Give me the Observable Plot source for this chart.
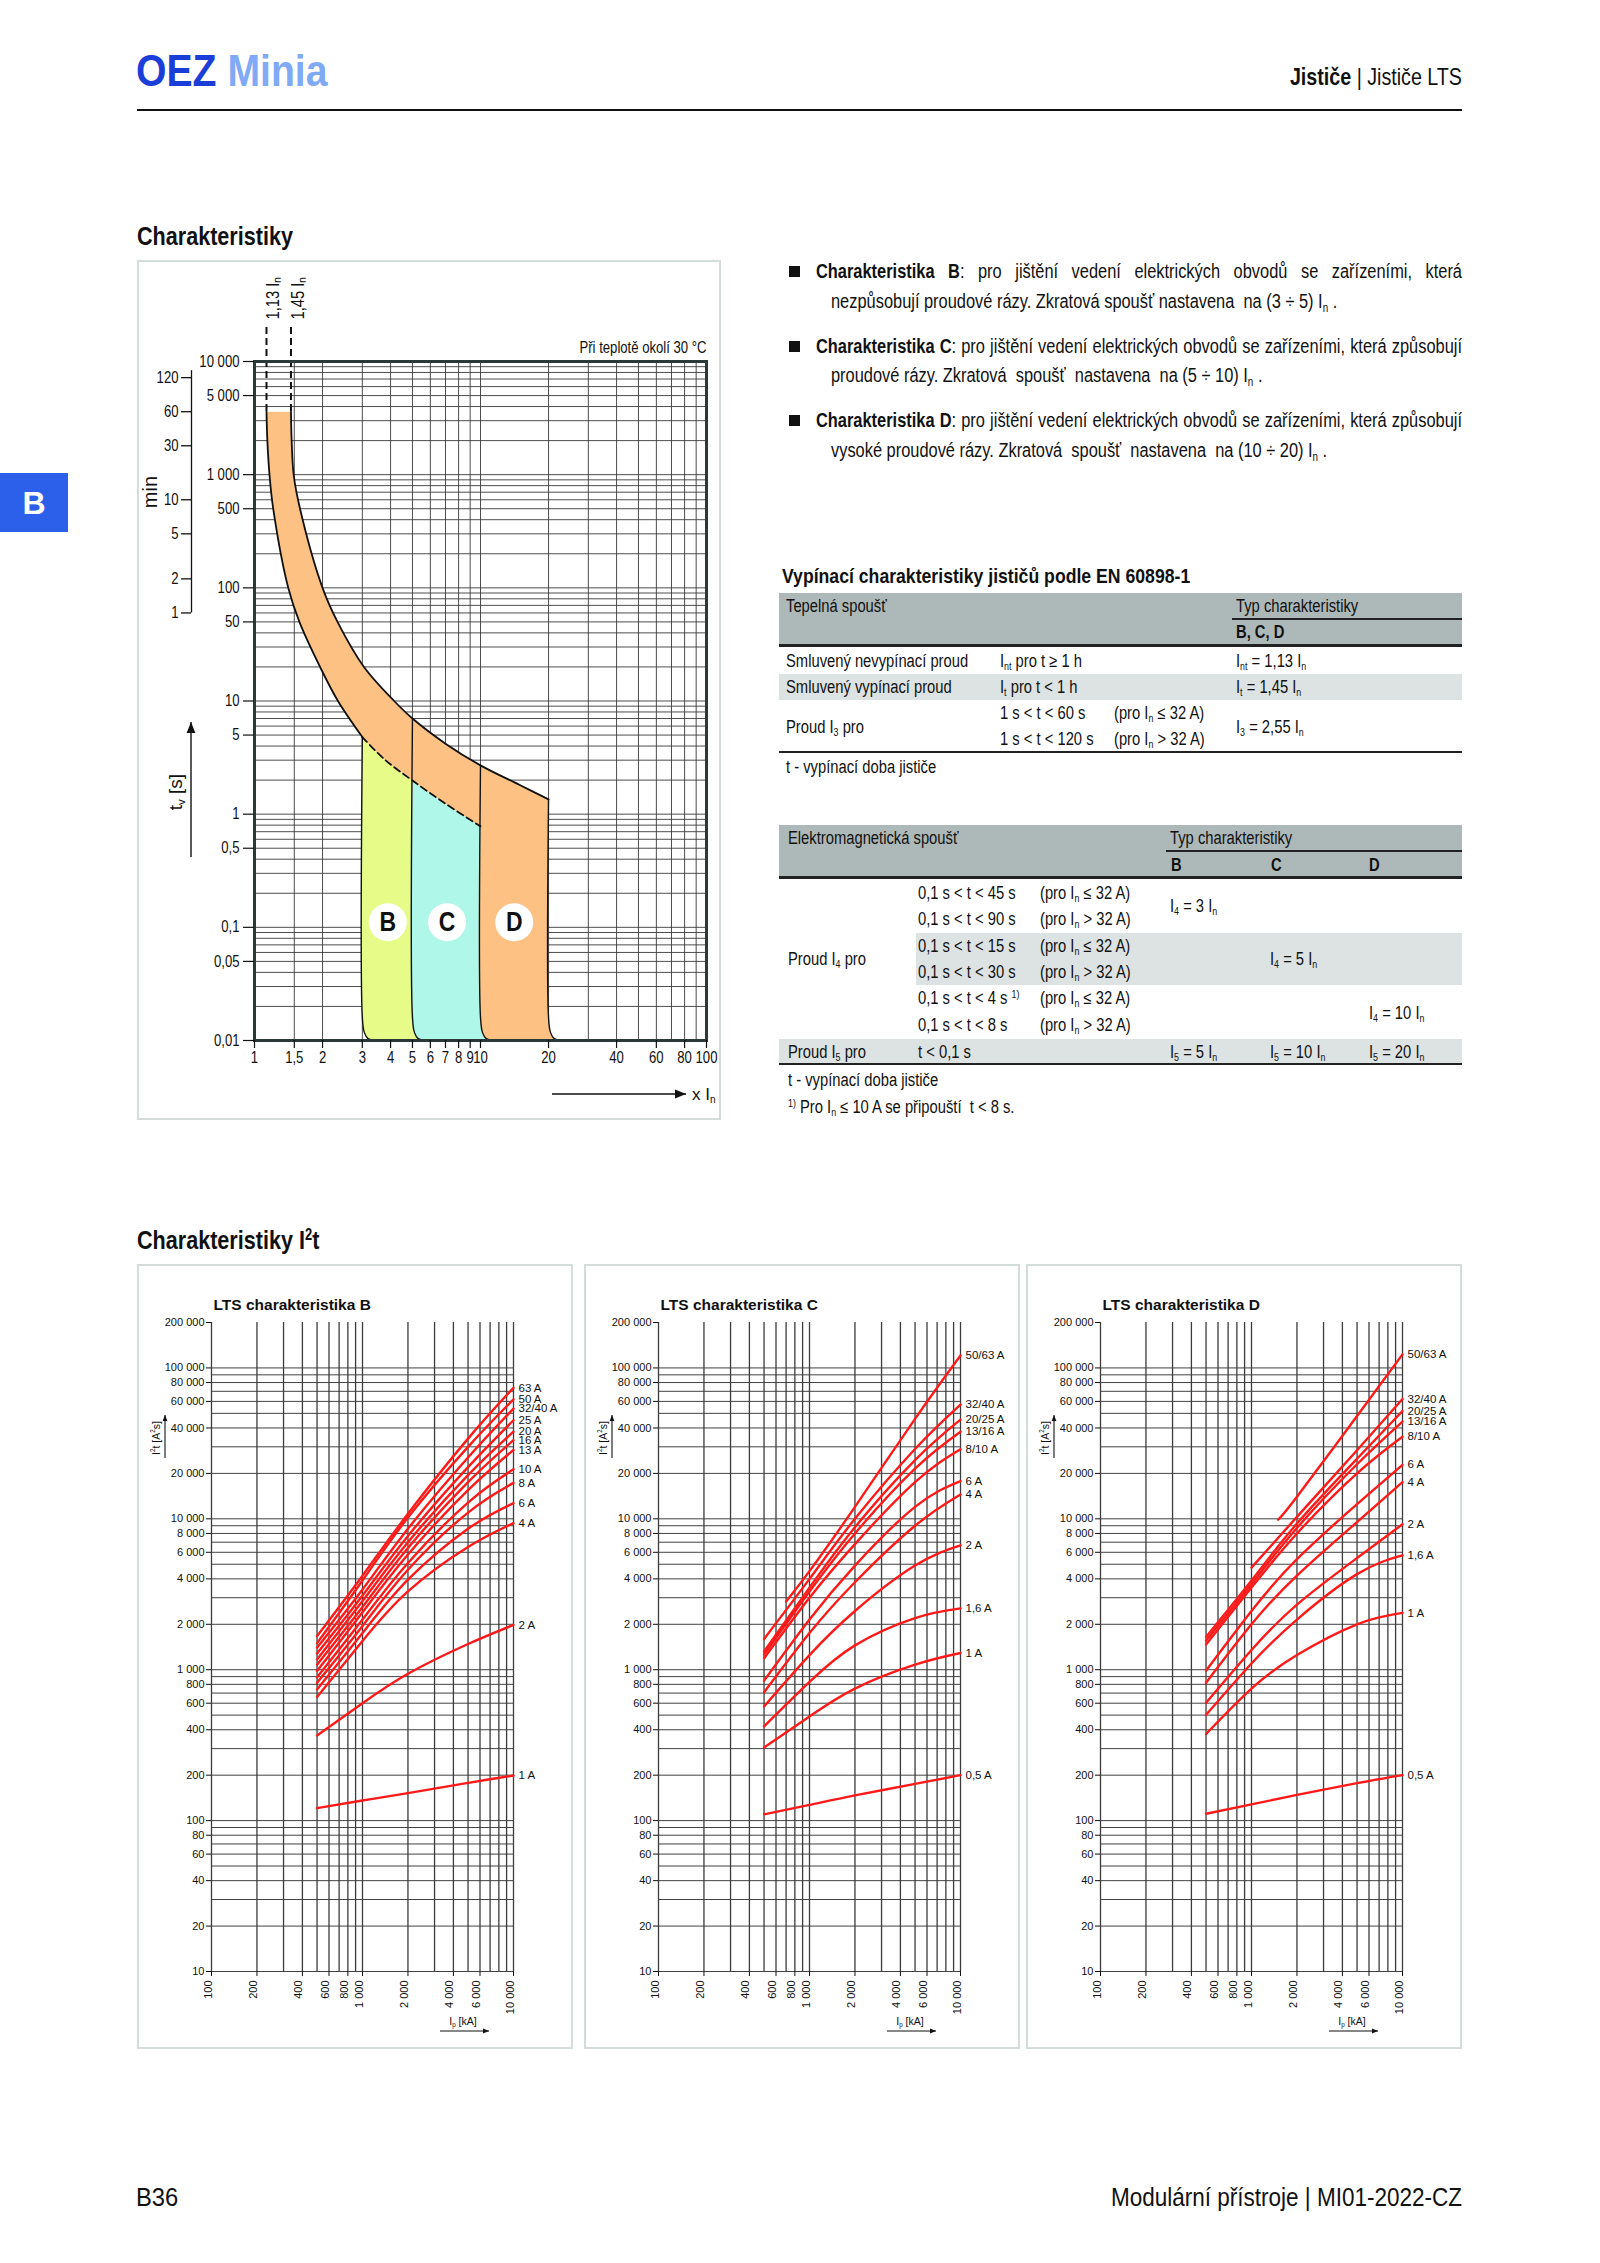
<!DOCTYPE html>
<html><head><meta charset="utf-8">
<script src="https://cdn.jsdelivr.net/npm/d3@7"></script>
<script src="https://cdn.jsdelivr.net/npm/@observablehq/plot@0.6"></script>
<style>
body{margin:0;background:#fff;}
#page{position:relative;width:1600px;height:2263px;overflow:hidden;font-family:"Liberation Sans",Arial,sans-serif;color:#111;background:#fff;}
.a{position:absolute;white-space:nowrap;line-height:1.15;}
.box{position:absolute;border:2.5px solid #d5dcdc;box-sizing:border-box;}
sub{font-size:0.6em;vertical-align:-0.35em;line-height:0;}
sup{font-size:0.6em;vertical-align:0.55em;line-height:0;}
</style></head><body><div id="page"></div>
<script>
// ---------------- DATA: tripping characteristic (x = multiple of In, t in seconds) ----------------
const lowCurveX  = [1.13, 1.14, 1.165, 1.21, 1.41, 1.58, 1.95, 2.34, 3.0];
const lowCurveT  = [3600, 2000, 1000, 500, 100, 50, 20, 10, 4.8];
const highCurveX = [1.45, 1.46, 1.49, 1.59, 2.0, 2.33, 3.05, 4.15, 5.0, 7.0, 10, 15, 20];
const highCurveT = [3600, 2000, 1000, 500, 100, 50, 20, 10, 7.0, 4.2, 2.7, 1.8, 1.35];
const instLowX   = [3.0, 3.74, 5.0, 7.03, 10];
const instLowT   = [4.8, 3.08, 1.98, 1.23, 0.78];
const magEdgeX   = [3, 5, 10, 20];          // B, C, D lower edges and D upper edge
const magEdgeTop = [4.8, 7.0, 2.7, 1.35];
const edgeFootT  = [0.016, 0.0118, 0.0104, 0.01];
const edgeFootK  = [1, 1.02, 1.06, 1.14];
const zoneNames  = ["B", "C", "D"];
const zoneX      = [3.89, 7.11, 14.1];
const zoneT      = [0.111, 0.111, 0.111];
const ratedMarks = [1.13, 1.45];
const mainXTicks = [1, 1.5, 2, 3, 4, 5, 6, 7, 8, 9, 10, 20, 40, 60, 80, 100];
const mainXGrid  = [1, 1.5, 2, 3, 4, 5, 6, 7, 8, 9, 10, 20, 30, 40, 50, 60, 70, 80, 90, 100];
const mainYTicks = [0.01, 0.05, 0.1, 0.5, 1, 5, 10, 50, 100, 500, 1000, 5000, 10000];
const mainDecades = [0.01, 0.1, 1, 10, 100, 1000];
const gridMult   = [1, 2, 3, 4, 5, 6, 7, 8, 9];
const minuteTicks = [1, 2, 5, 10, 30, 60, 120];

// ---------------- DATA: I2t let-through energy (Ip, I2t in A2s) ----------------
const ipGrid = [500, 700, 1000, 1500, 2000, 5000, 10000];
const labelsB = ["63 A","50 A","32/40 A","25 A","20 A","16 A","13 A","10 A","8 A","6 A","4 A","2 A","1 A"];
const valuesB = [
  [1670, null, 4200, null, 10800, 34000, 73800],
  [1500, null, 3900, null, 10200, 30000, 61900],
  [1400, null, 3400, null, 8600, 25500, 53700],
  [1280, null, 3100, null, 7700, 22000, 45000],
  [1170, null, 2850, null, 7000, 19500, 37800],
  [1080, null, 2600, null, 6400, 17500, 33200],
  [980,  null, 2400, null, 5800, 15500, 28600],
  [890,  null, 2150, null, 5100, 12800, 21300],
  [820,  null, 1950, null, 4600, 11000, 17300],
  [740,  null, 1750, null, 3950, 8600, 12700],
  [660,  null, 1550, null, 3300, 6500, 9360],
  [367,  null, 600,  null, 940,  1480, 1980],
  [121,  null, 136,  null, 152,  178,  199]
];
const labelsC = ["50/63 A","32/40 A","20/25 A","13/16 A","8/10 A","6 A","4 A","2 A","1,6 A","1 A","0,5 A"];
const valuesC = [
  [null, 2830, 4500, null, 12000, 46000, 121000],
  [1600, null, 4000, null, 10000, 29000, 57100],
  [1320, null, 3500, null, 8800, 24500, 45400],
  [1260, null, 3300, null, 8000, 21500, 37800],
  [1190, null, 3000, null, 6800, 17500, 28900],
  [845,  null, 2150, null, 4900, 12000, 17800],
  [708,  null, 1750, null, 3800, 9000, 14500],
  [571,  null, 1250, null, 2450, 4900, 6670],
  [421,  null, 830,  null, 1450, 2200, 2550],
  [305,  null, 490,  null, 750,  1080, 1290],
  [110,  null, 127,  null, 147,  175,  200]
];
const labelsD = ["50/63 A","32/40 A","20/25 A","13/16 A","8/10 A","6 A","4 A","2 A","1,6 A","1 A","0,5 A"];
const valuesD = [
  [null, null, null, 9870, 14000, 48000, 123000],
  [null, null, 4750, null, 10300, 28500, 62200],
  [1650, null, 3900, null, 9300, 25000, 51800],
  [1560, null, 3700, null, 8700, 23000, 44100],
  [1470, null, 3500, null, 8000, 20000, 35000],
  [986,  null, 2450, null, 5400, 12500, 22800],
  [820,  null, 2000, null, 4200, 9500, 17500],
  [603,  null, 1350, null, 2700, 5500, 9200],
  [502,  null, 1100, null, 2150, 4300, 5720],
  [375,  null, 750,  null, 1250, 2000, 2380],
  [111,  null, 128,  null, 148,  177,  200]
];
const i2tYTicks = [10,20,40,60,80,100,200,400,600,800,1000,2000,4000,6000,8000,10000,20000,40000,60000,80000,100000,200000];
const i2tDecades = [10, 100, 1000, 10000];
const ipTicks = [100,200,400,600,800,1000,2000,4000,6000,10000];
const ipDecades = [100, 1000];

// ---------------- helpers ----------------
const FONT = '"Liberation Sans",Arial,sans-serif';
const page = document.getElementById("page");
const fmtSpace = d => d3.format(",")(d).replace(/,/g, " ");
const fmtComma = d => String(d).replace(".", ",");
const fmtMain = d => d >= 1000 ? fmtSpace(d) : fmtComma(d);

function put(html, x, y, css = "", anchor = "left", sx = 0.82) {
  const d = document.createElement("div");
  d.className = "a";
  d.style.cssText = css;
  d.style.left = x + "px"; d.style.top = y + "px";
  const tx = anchor === "right" ? "-100%" : anchor === "center" ? "-50%" : "0";
  d.style.transform = `translate(${tx},-50%) scaleX(${sx})`;
  d.style.transformOrigin = (anchor === "right" ? "right" : anchor === "center" ? "center" : "left") + " center";
  d.innerHTML = html;
  page.appendChild(d);
  return d;
}
function rect(x, y, w, h, bg) {
  const d = document.createElement("div");
  d.style.cssText = `position:absolute;left:${x}px;top:${y}px;width:${w}px;height:${h}px;background:${bg};`;
  page.appendChild(d);
  return d;
}
function box(x, y, w, h) {
  const d = document.createElement("div");
  d.className = "box";
  d.style.left = x + "px"; d.style.top = y + "px"; d.style.width = w + "px"; d.style.height = h + "px";
  page.appendChild(d);
}
function place(svg, x, y, w) {
  const d = document.createElement("div");
  d.style.cssText = `position:absolute;left:${x}px;top:${y}px;width:${w}px;`;
  d.appendChild(svg);
  page.appendChild(d);
}
function condense(root, k) {
  root.querySelectorAll("text").forEach(t => {
    const w = t.getComputedTextLength();
    if (w > 0) { t.setAttribute("textLength", (w * k).toFixed(2)); t.setAttribute("lengthAdjust", "spacingAndGlyphs"); }
  });
}

// ---------------- header / page furniture ----------------
put('<span style="color:#1c3ed8">OEZ</span> <span style="color:#80aaf6">Minia</span>', 136, 71, "font-size:44px;font-weight:bold;", "left", 0.89);
put('<b>Jističe</b> <span style="font-weight:300">|</span> Jističe LTS', 1462, 77, "font-size:24px;", "right");
rect(137, 109, 1325, 1.6, "#111");
rect(0, 473, 68, 59, "#2c5fea");
put("B", 34, 503, "font-size:32px;font-weight:bold;color:#fff;", "center", 1);
put("Charakteristiky", 137, 237, "font-size:26px;font-weight:bold;", "left", 0.83);
put("Charakteristiky I<sup>2</sup>t", 137, 1241, "font-size:26px;font-weight:bold;", "left", 0.83);
put("B36", 136, 2197, "font-size:25px;", "left", 0.95);
put('Modulární přístroje <span style="font-weight:300">|</span> MI01-2022-CZ', 1462, 2197, "font-size:25px;", "right", 0.9);

// ---------------- bullets ----------------
const bullets = [
  ['<b>Charakteristika B</b>: pro jištění vedení elektrických obvodů se zařízeními, která', 'nezpůsobují proudové rázy. Zkratová spoušť nastavena&nbsp; na (3 ÷ 5) I<sub>n</sub> .'],
  ['<b>Charakteristika C</b>: pro jištění vedení elektrických obvodů se zařízeními, která způsobují', 'proudové rázy. Zkratová&nbsp; spoušť&nbsp; nastavena&nbsp; na (5 ÷ 10) I<sub>n</sub> .'],
  ['<b>Charakteristika D</b>: pro jištění vedení elektrických obvodů se zařízeními, která způsobují', 'vysoké proudové rázy. Zkratová&nbsp; spoušť&nbsp; nastavena&nbsp; na (10 ÷ 20) I<sub>n</sub> .']
];
const bulletY = [[271, 301], [346, 375], [420, 450]];
const BUL = "font-size:20px;";
bullets.forEach((b, i) => {
  rect(789, bulletY[i][0] - 5.5, 11, 11, "#111");
  const d = put(b[0], 816, bulletY[i][0], BUL);
  const natural = d.offsetWidth;
  const s = Math.min(0.82, 646 / natural);
  d.style.transform = `translate(0,-50%) scaleX(${s})`;
  d.style.whiteSpace = "normal";
  d.style.width = Math.max(646 / s, natural + 1) + "px";
  d.style.textAlign = "justify";
  d.style.textAlignLast = "justify";
  put(b[1], 831, bulletY[i][1], BUL);
});

// ---------------- table 1 ----------------
const T = "font-size:18px;";
put("<b>Vypínací charakteristiky jističů podle EN 60898-1</b>", 782, 576, "font-size:21px;", "left", 0.84);
rect(779, 593, 683, 52, "#adb8b8");
put("Tepelná spoušť", 786, 606, T);
put("Typ charakteristiky", 1236, 606, T);
rect(1232, 618, 230, 1.6, "#222");
put("<b>B, C, D</b>", 1236, 632, T);
rect(779, 644, 683, 2.6, "#222");
put("Smluvený nevypínací proud", 786, 661, T);
put("I<sub>nt</sub> pro t ≥ 1 h", 1000, 661, T);
put("I<sub>nt</sub> = 1,13 I<sub>n</sub>", 1236, 661, T);
rect(779, 674, 683, 26, "#dde2e2");
put("Smluvený vypínací proud", 786, 687, T);
put("I<sub>t</sub> pro t &lt; 1 h", 1000, 687, T);
put("I<sub>t</sub> = 1,45 I<sub>n</sub>", 1236, 687, T);
put("Proud I<sub>3</sub> pro", 786, 727, T);
put("1 s &lt; t &lt; 60 s", 1000, 713, T);
put("(pro I<sub>n</sub> ≤ 32 A)", 1114, 713, T);
put("1 s &lt; t &lt; 120 s", 1000, 739, T);
put("(pro I<sub>n</sub> &gt; 32 A)", 1114, 739, T);
put("I<sub>3</sub> = 2,55 I<sub>n</sub>", 1236, 727, T);
rect(779, 751, 683, 1.8, "#222");
put("t - vypínací doba jističe", 786, 767, T);

// ---------------- table 2 ----------------
rect(779, 825, 683, 52, "#adb8b8");
put("Elektromagnetická spoušť", 788, 838, T);
put("Typ charakteristiky", 1170, 838, T);
rect(1166, 850, 296, 1.6, "#222");
put("<b>B</b>", 1171, 865, T); put("<b>C</b>", 1271, 865, T); put("<b>D</b>", 1369, 865, T);
rect(779, 876, 683, 2.6, "#222");
put("0,1 s &lt; t &lt; 45 s", 918, 893, T); put("(pro I<sub>n</sub> ≤ 32 A)", 1040, 893, T);
put("0,1 s &lt; t &lt; 90 s", 918, 919, T); put("(pro I<sub>n</sub> &gt; 32 A)", 1040, 919, T);
put("I<sub>4</sub> = 3 I<sub>n</sub>", 1170, 906, T);
rect(916, 933, 546, 52, "#dde2e2");
put("0,1 s &lt; t &lt; 15 s", 918, 946, T); put("(pro I<sub>n</sub> ≤ 32 A)", 1040, 946, T);
put("0,1 s &lt; t &lt; 30 s", 918, 972, T); put("(pro I<sub>n</sub> &gt; 32 A)", 1040, 972, T);
put("I<sub>4</sub> = 5 I<sub>n</sub>", 1270, 959, T);
put("0,1 s &lt; t &lt; 4 s <sup>1)</sup>", 918, 998, T); put("(pro I<sub>n</sub> ≤ 32 A)", 1040, 998, T);
put("0,1 s &lt; t &lt; 8 s", 918, 1025, T); put("(pro I<sub>n</sub> &gt; 32 A)", 1040, 1025, T);
put("I<sub>4</sub> = 10 I<sub>n</sub>", 1369, 1013, T);
put("Proud I<sub>4</sub> pro", 788, 959, T);
rect(779, 1039, 683, 25, "#dde2e2");
put("Proud I<sub>5</sub> pro", 788, 1052, T);
put("t &lt; 0,1 s", 918, 1052, T);
put("I<sub>5</sub> = 5 I<sub>n</sub>", 1170, 1052, T);
put("I<sub>5</sub> = 10 I<sub>n</sub>", 1270, 1052, T);
put("I<sub>5</sub> = 20 I<sub>n</sub>", 1369, 1052, T);
rect(779, 1063, 683, 1.8, "#222");
put("t - vypínací doba jističe", 788, 1080, T);
put("<sup>1)</sup> Pro I<sub>n</sub> ≤ 10 A se připouští&nbsp; t &lt; 8 s.", 788, 1107, T);

// ---------------- main tripping chart ----------------
const pts = (xs, ts) => xs.map((x, i) => [x, ts[i]]);
const edge = (x, tTop) => [[x, tTop], ...edgeFootT.map((t, j) => [x * edgeFootK[j], t])];
const poly = (...segs) => segs.flatMap(s => [s[0], ...s, s[s.length - 1]]);
const low = pts(lowCurveX, lowCurveT);
const high = pts(highCurveX, highCurveT);
const inst = pts(instLowX, instLowT);
const edges = magEdgeX.map((x, i) => edge(x, magEdgeTop[i]));
const iC = instLowX.indexOf(5.0);
const instAtC = instLowT[iC];
const instAtD = instLowT[instLowT.length - 1];
const orangePoly = poly(low, edges[0], edges[3].slice().reverse(), high.slice().reverse());
const yellowPoly = poly(inst.slice(0, iC + 1), edge(magEdgeX[1], instAtC), edges[0].slice().reverse());
const cyanPoly = poly(inst.slice(iC), edge(magEdgeX[2], instAtD), edge(magEdgeX[1], instAtC).reverse());
const yGridMain = mainDecades.flatMap(d => gridMult.map(m => +(m * d).toPrecision(3))).concat([10000]);
const P = {x: d => d[0], y: d => d[1]};
const xMin = 1, tMin = 0.01;

const mainPlot = Plot.plot({
  width: 584, height: 860,
  marginLeft: 117, marginRight: 15, marginTop: 101, marginBottom: 80,
  x: {type: "log", domain: [1, 100], axis: null},
  y: {type: "log", domain: [0.01, 10000], axis: null},
  style: {fontFamily: FONT, fontSize: "16px", color: "#111", background: "transparent", overflow: "visible"},
  marks: [
    Plot.ruleY(yGridMain, {stroke: "#3a3a3a", strokeWidth: 0.9}),
    Plot.ruleX(mainXGrid, {stroke: "#3a3a3a", strokeWidth: 0.9}),
    Plot.line(orangePoly, {...P, fill: "#fdc283", stroke: "none", curve: "catmull-rom"}),
    Plot.line(yellowPoly, {...P, fill: "#e6fb88", stroke: "none", curve: "catmull-rom"}),
    Plot.line(cyanPoly, {...P, fill: "#aff7e8", stroke: "none", curve: "catmull-rom"}),
    Plot.line(low, {...P, stroke: "#111", strokeWidth: 1.8, curve: "catmull-rom"}),
    Plot.line(high, {...P, stroke: "#111", strokeWidth: 1.8, curve: "catmull-rom"}),
    Plot.line(inst, {...P, stroke: "#111", strokeWidth: 1.8, strokeDasharray: "7,4", curve: "catmull-rom"}),
    ...edges.map(e => Plot.line(e, {...P, stroke: "#111", strokeWidth: 1.4, curve: "catmull-rom"})),
    Plot.ruleX(ratedMarks, {x: d => d, y1: 10000, y2: 3600, insetTop: -34, stroke: "#111", strokeWidth: 2, strokeDasharray: "7,4"}),
    Plot.text(ratedMarks, {x: d => d, text: d => fmtComma(d) + " Iₙ", frameAnchor: "top", dy: -42, rotate: -90, textAnchor: "start", fontSize: 18}),
    Plot.dot(zoneNames, {x: (d, i) => zoneX[i], y: (d, i) => zoneT[i], r: 19, fill: "#fff", stroke: "none"}),
    Plot.text(zoneNames, {x: (d, i) => zoneX[i], y: (d, i) => zoneT[i], text: d => d, fontSize: 28, fontWeight: "bold", fill: "#111"}),
    Plot.frame({stroke: "#2b3939", strokeWidth: 3}),
    // x axis
    Plot.ruleX(mainXTicks, {x: d => d, y1: tMin, y2: tMin, insetBottom: -8, stroke: "#111", strokeWidth: 1.2}),
    Plot.text(mainXTicks, {x: d => d, frameAnchor: "bottom", dy: 22, text: fmtComma, fontSize: 16}),
    // y axis (seconds)
    Plot.ruleY(mainYTicks, {y: d => d, x1: xMin, x2: xMin, insetLeft: -11, stroke: "#111", strokeWidth: 1.2}),
    Plot.text(mainYTicks, {y: d => d, frameAnchor: "left", dx: -15, textAnchor: "end", text: fmtMain, fontSize: 16}),
    // secondary minutes axis
    Plot.ruleX([xMin], {y1: 8300, y2: minuteTicks[0] * 60, dx: -63, stroke: "#111", strokeWidth: 1.3}),
    Plot.ruleY(minuteTicks, {y: m => m * 60, x1: xMin, x2: xMin, dx: -63, insetLeft: -10, stroke: "#111", strokeWidth: 1.3}),
    Plot.text(minuteTicks, {y: m => m * 60, frameAnchor: "left", dx: -76, textAnchor: "end", text: d => String(d), fontSize: 16}),
    Plot.text(["Při teplotě okolí 30 °C"], {text: d => d, frameAnchor: "top-right", dy: -20, textAnchor: "end", fontSize: 16})
  ]
});
box(137, 260, 584, 860);
place(mainPlot, 137, 260, 584);
condense(mainPlot, 0.82);

// ---------------- I2t charts ----------------
const i2tYGrid = i2tDecades.flatMap(d => gridMult.map(m => m * d)).concat([100000]);
const ipGridLines = ipDecades.flatMap(d => gridMult.map(m => m * d)).concat([10000]);
function i2tChart(labels, values, title) {
  const data = [];
  labels.forEach((lab, i) => values[i].forEach((v, j) => { if (v != null) data.push({lab, x: ipGrid[j], v}); }));
  const ends = labels.map((lab, i) => ({lab, x: ipGrid[ipGrid.length - 1], v: values[i][values[i].length - 1]}));
  return Plot.plot({
    width: 436, height: 785,
    marginLeft: 74, marginRight: 60, marginTop: 58, marginBottom: 78,
    x: {type: "log", domain: [100, 10000], axis: null},
    y: {type: "log", domain: [10, 200000], axis: null},
    style: {fontFamily: FONT, fontSize: "11px", color: "#111", background: "transparent", overflow: "visible"},
    marks: [
      Plot.ruleY(i2tYGrid, {stroke: "#111", strokeWidth: 0.8}),
      Plot.ruleX(ipGridLines, {stroke: "#3c3c3c", strokeWidth: 1.3}),
      Plot.line(data, {x: "x", y: "v", z: "lab", stroke: "#ff1a1a", strokeWidth: 2.4, curve: "natural"}),
      Plot.text(ends, {x: "x", y: "v", text: "lab", dx: 5, textAnchor: "start", fontSize: 11.5}),
      Plot.ruleY(i2tYTicks, {y: d => d, x1: 100, x2: 100, insetLeft: -5, stroke: "#111", strokeWidth: 1}),
      Plot.text(i2tYTicks, {y: d => d, frameAnchor: "left", dx: -7, textAnchor: "end", text: fmtSpace, fontSize: 11}),
      Plot.ruleX(ipTicks, {x: d => d, y1: 10, y2: 10, insetBottom: -5, stroke: "#111", strokeWidth: 1}),
      Plot.text(ipTicks, {x: d => d, frameAnchor: "bottom", dy: 9, rotate: -90, textAnchor: "end", text: fmtSpace, fontSize: 11}),
      Plot.text([title], {text: d => d, frameAnchor: "top-left", dx: 2, dy: -24, textAnchor: "start", fontSize: 15.5, fontWeight: "bold"})
    ]
  });
}
const boxLefts = [137, 584, 1026];
const charts = [
  i2tChart(labelsB, valuesB, "LTS charakteristika B"),
  i2tChart(labelsC, valuesC, "LTS charakteristika C"),
  i2tChart(labelsD, valuesD, "LTS charakteristika D")
];
charts.forEach((c, i) => { box(boxLefts[i], 1264, 436, 785); place(c, boxLefts[i], 1264, 436); });

// ---------------- overlay: axis captions and arrows ----------------
const NS = "http://www.w3.org/2000/svg";
const ov = document.createElementNS(NS, "svg");
ov.setAttribute("width", 1600); ov.setAttribute("height", 2263);
ov.style.cssText = "position:absolute;left:0;top:0;pointer-events:none;overflow:visible";
page.appendChild(ov);
function el(tag, attrs, parent = ov) {
  const e = document.createElementNS(NS, tag);
  for (const k in attrs) e.setAttribute(k, attrs[k]);
  parent.appendChild(e);
  return e;
}
function arrow(x1, y1, x2, y2, head = 9, w = 1.3) {
  el("line", {x1, y1, x2, y2, stroke: "#111", "stroke-width": w});
  const L = Math.hypot(x2 - x1, y2 - y1), ux = (x2 - x1) / L, uy = (y2 - y1) / L;
  const bx = x2 - ux * head, by = y2 - uy * head, px = -uy * head * 0.4, py = ux * head * 0.4;
  el("polygon", {points: `${x2},${y2} ${bx + px},${by + py} ${bx - px},${by - py}`, fill: "#111"});
}
function rtext(parts, x, y, size, rotate = 0, anchor = "middle") {
  const t = el("text", {x, y, "font-size": size, "font-family": FONT, "text-anchor": anchor, "dominant-baseline": "central", fill: "#111"});
  if (rotate) t.setAttribute("transform", `rotate(${rotate} ${x} ${y})`);
  parts.forEach(([s, kind]) => {
    const sp = el("tspan", {}, t);
    sp.textContent = s;
    if (kind === "sub") { sp.setAttribute("font-size", size * 0.6); sp.setAttribute("baseline-shift", "sub"); }
    if (kind === "sup") { sp.setAttribute("font-size", size * 0.6); sp.setAttribute("baseline-shift", "super"); }
  });
  return t;
}
// main chart captions
rtext([["min"]], 150, 492, 20, -90);
rtext([["t"], ["v", "sub"], [" [s]"]], 175, 792, 19, -90);
arrow(191, 857, 191, 722, 11, 1.4);
arrow(552, 1094, 686, 1094, 11, 1.4);
rtext([["x I"], ["n", "sub"]], 692, 1094, 17, 0, "start");
// I2t captions
boxLefts.forEach(bl => {
  const fr = bl + 74 + 302;
  rtext([["I"], ["2", "sup"], ["t [A"], ["2", "sup"], ["s]"]], bl + 19, 1438, 10.5, -90);
  arrow(bl + 28, 1458, bl + 28, 1415, 6, 1.1);
  rtext([["I"], ["p", "sub"], [" [kA]"]], fr - 50, 2021, 10.5, 0);
  arrow(fr - 73, 2031, fr - 24, 2031, 6, 1.1);
});
</script></body></html>
